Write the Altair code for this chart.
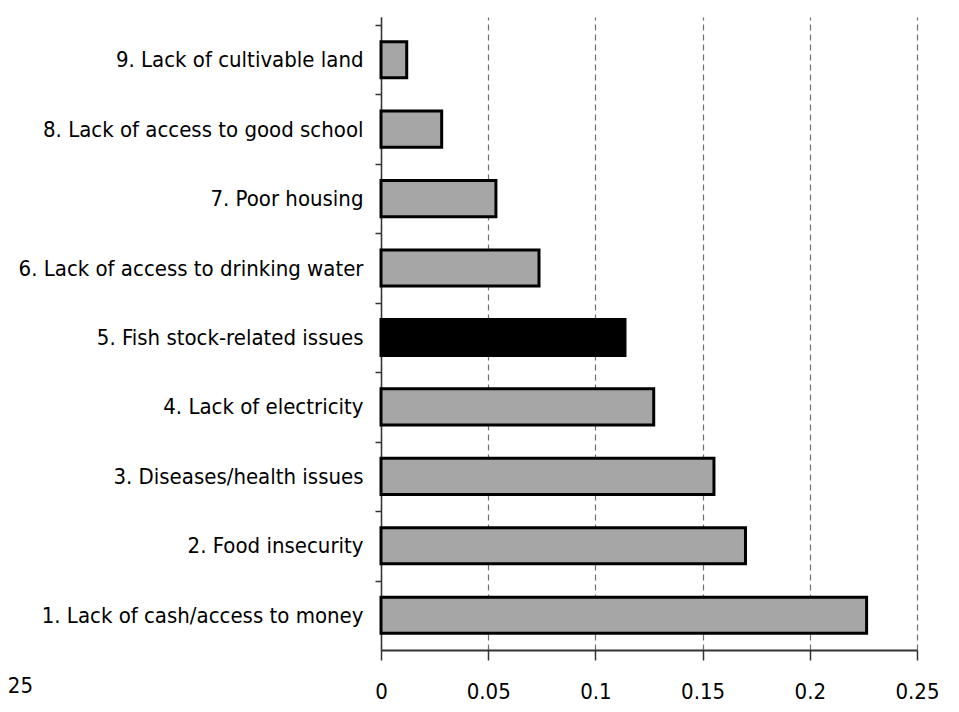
import altair as alt
import pandas as pd

categories = [
    "1. Lack of cash/access to money",
    "2. Food insecurity",
    "3. Diseases/health issues",
    "4. Lack of electricity ",
    "5. Fish stock-related issues",
    "6. Lack of access to drinking water",
    "7. Poor housing",
    "8. Lack of access to good school",
    "9. Lack of cultivable land",
]
values = [0.2265, 0.170, 0.1553, 0.1272, 0.1138, 0.0737, 0.0536, 0.0283, 0.012]
highlight = [False, False, False, False, True, False, False, False, False]
x_ticks = [0, 0.05, 0.1, 0.15, 0.2, 0.25]

df = pd.DataFrame({"cat": categories, "val": values, "hl": highlight})
order = list(reversed(categories))

FONT = "DejaVu Sans Condensed, Liberation Sans Narrow, Arial Narrow, Liberation Sans, sans-serif"
FS = 22
HALF_STEP = 34.72

bars = alt.Chart(df).mark_bar(stroke="black", strokeWidth=3).encode(
    y=alt.Y("cat:N", sort=order, title=None,
            scale=alt.Scale(paddingInner=0.48, paddingOuter=0.2976, align=0.596, round=False),
            axis=alt.Axis(labelFont=FONT, labelFontSize=FS, labelColor="black",
                          labelPadding=12, tickSize=6, tickOffset=-HALF_STEP,
                          labelOffset=HALF_STEP,
                          tickColor="#333", tickWidth=1.5, domainColor="#333",
                          domainWidth=1.5, labelLimit=400, grid=False)),
    x=alt.X("val:Q", title=None,
            scale=alt.Scale(domain=[0, 0.25], nice=False, zero=True),
            axis=alt.Axis(values=x_ticks, labelExpr="format(datum.value, '')",
                          labelFont=FONT, labelFontSize=FS, labelColor="black",
                          tickSize=10, tickColor="#333", tickWidth=1.5,
                          labelPadding=21, domainColor="#333", domainWidth=2,
                          grid=True, gridDash=[6, 4], gridColor="#707070",
                          gridWidth=1.2, labelFlush=False)),
    color=alt.Color("hl:N", scale=alt.Scale(domain=[False, True], range=["#a6a6a6", "#000000"]),
                    legend=None),
)

stray = alt.Chart(pd.DataFrame({"t": ["25"]})).mark_text(
    font=FONT, fontSize=FS, align="right", baseline="middle", color="black"
).encode(text="t:N", x=alt.value(-348), y=alt.value(669))

chart = alt.layer(bars, stray).properties(
    width=536, height=633,
    autosize=alt.AutoSizeParams(type="none"),
    padding={"left": 373, "top": 9, "right": 34, "bottom": 54},
).configure_view(stroke=None)

chart.save("out.html", embed_options={"renderer": "svg", "actions": False})
